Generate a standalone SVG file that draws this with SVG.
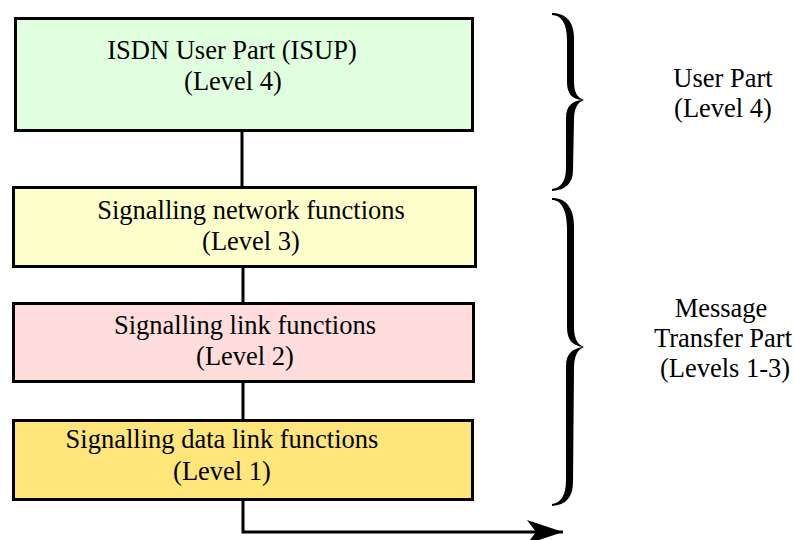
<svg xmlns="http://www.w3.org/2000/svg" width="795" height="540" viewBox="0 0 795 540">
<style>
.box{stroke:#000;stroke-width:3}
.t{font-family:"Liberation Serif","Times New Roman",serif;font-size:26.5px;fill:#000}
.c{text-anchor:middle}
.ln{stroke:#000;stroke-width:3;fill:none}
</style>
<defs>
<marker id="ah" markerUnits="userSpaceOnUse" markerWidth="40" markerHeight="30" refX="36" refY="12" orient="auto">
<path d="M0,0 L36,12 L0,24 L9,12 Z" fill="#000"/>
</marker>
</defs>
<rect width="795" height="540" fill="#fff"/>
<g id="connectors">
<line class="ln" x1="242" y1="131" x2="242" y2="187"/>
<line class="ln" x1="243" y1="267" x2="243" y2="303"/>
<line class="ln" x1="243" y1="382" x2="243" y2="420"/>
<polyline class="ln" points="243,493 243,532 563,532" marker-end="url(#ah)"/>
</g>
<g id="isup">
<rect class="box" x="15.5" y="18.5" width="457" height="112" fill="#dfffdf"/>
<text class="t c" x="232" y="59">ISDN User Part (ISUP)</text>
<text class="t c" x="233" y="90">(Level 4)</text>
</g>
<g id="level3">
<rect class="box" x="13.5" y="187.5" width="462" height="79" fill="#ffffcc"/>
<text class="t c" x="251" y="219">Signalling network functions</text>
<text class="t c" x="251" y="250">(Level 3)</text>
</g>
<g id="level2">
<rect class="box" x="13.5" y="303.5" width="460" height="78" fill="#ffdddd"/>
<text class="t c" x="245" y="334">Signalling link functions</text>
<text class="t c" x="245" y="365">(Level 2)</text>
</g>
<g id="level1">
<rect class="box" x="13.5" y="420.5" width="459" height="79" fill="#ffe57a"/>
<text class="t c" x="222" y="448">Signalling data link functions</text>
<text class="t c" x="222" y="480">(Level 1)</text>
</g>
<g id="brace-user">
<path fill="#000" d="M552,13 C566,13 574,22 574,38 L574,82 C574,93 578,98 584,100 C578,102 574,108 574,120 L573,170 C573,183 566,190 552,191 L552,189 C561,188 566,181 566,168 L566,118 C566,106 572,101 582,100 C572,99 567,94 567,82 L567,40 C567,23 561,15 552,15 Z"/>
</g>
<g id="brace-mtp">
<path fill="#000" d="M552,198 C566,198 574,208 574,226 L574,327 C574,339 578,345 584,347 C578,349 574,356 574,368 L573,482 C573,497 566,505 552,506 L552,504 C561,503 566,495 566,480 L566,366 C566,354 572,349 582,347 C572,345 567,340 567,327 L567,228 C567,210 561,200 552,200 Z"/>
</g>
<g id="user-part-label">
<text class="t c" x="723" y="86.5">User Part</text>
<text class="t c" x="723" y="117">(Level 4)</text>
</g>
<g id="mtp-label">
<text class="t c" x="721" y="316.5">Message</text>
<text class="t c" x="723" y="346.5">Transfer Part</text>
<text class="t c" x="725" y="376.5">(Levels 1-3)</text>
</g>
</svg>
